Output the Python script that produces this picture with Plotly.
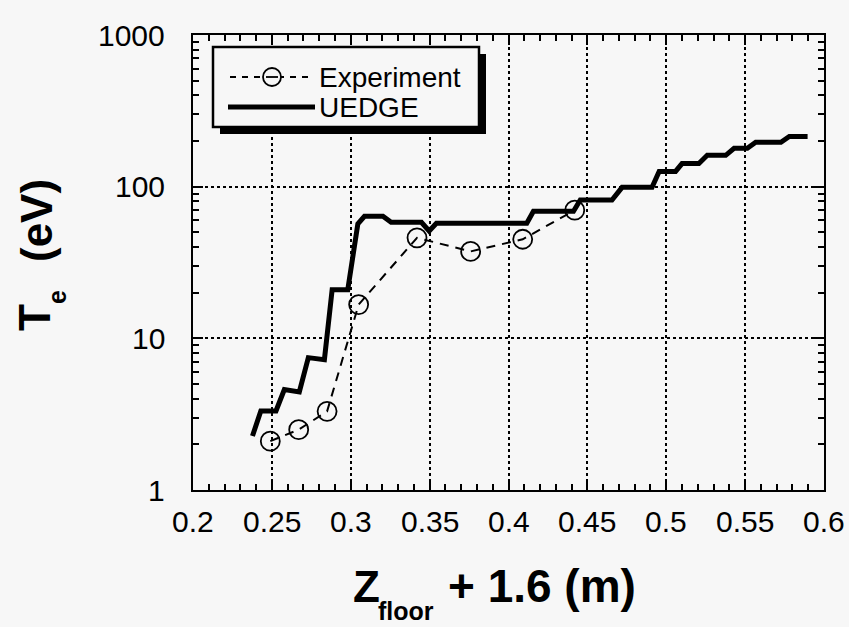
import math
import plotly.graph_objects as go

# Measured electron temperature (probe) along the floor
exp_z = [0.249, 0.267, 0.285, 0.305, 0.342, 0.376, 0.409, 0.442]
exp_te = [2.1, 2.5, 3.3, 16.7, 46.0, 37.4, 45.0, 70.0]

# UEDGE simulation profile
uedge_z = [0.2377, 0.2430, 0.2526, 0.2579, 0.2674, 0.2731, 0.2833, 0.2882,
           0.2981, 0.3045, 0.3087, 0.3204, 0.3256, 0.3448, 0.3497, 0.3543,
           0.4116, 0.4158, 0.4412, 0.4455, 0.4656, 0.4720, 0.4910, 0.4955,
           0.5059, 0.5100, 0.5207, 0.5260, 0.5377, 0.5430, 0.5514, 0.5567,
           0.5727, 0.5780, 0.5896]
uedge_te = [2.27, 3.32, 3.32, 4.6, 4.43, 7.46, 7.24, 20.9,
            20.9, 56.8, 63.8, 63.8, 58.2, 58.2, 51.0, 57.4,
            57.4, 68.8, 68.8, 81.7, 81.7, 99.0, 99.0, 126.0,
            126.0, 142.0, 142.0, 161.0, 161.0, 179.0, 179.0, 196.0,
            196.0, 214.0, 214.0]

x_ticks = [0.2, 0.25, 0.3, 0.35, 0.4, 0.45, 0.5, 0.55, 0.6]
x_tick_text = ["0.2", "0.25", "0.3", "0.35", "0.4", "0.45", "0.5", "0.55", "0.6"]
y_ticks = [1, 10, 100, 1000]
y_tick_text = ["1", "10", "100", "1000"]

legend_names = ["Experiment", "UEDGE"]

# Minor tick positions: 0.01 steps in x, 2..9 within each decade in y
x_minor = [round(0.2 + 0.01 * i, 2) for i in range(41) if i % 5]
y_minor = [m * 10 ** d for d in range(3) for m in range(2, 10)]

# Page geometry (pixels)
FIG_W, FIG_H = 849, 627
M_L, M_R, M_T, M_B = 193, 25, 35, 137
PLOT_W = FIG_W - M_L - M_R
PLOT_H = FIG_H - M_T - M_B


def px(x):
    return (x - M_L) / PLOT_W


def py(y):
    return (FIG_H - M_B - y) / PLOT_H


BG = "#f7f7f7"
FONT = "Liberation Sans, Arial, Helvetica, sans-serif"
TICK_FONT = dict(family=FONT, size=30, color="black")

fig = go.Figure()

fig.add_trace(go.Scatter(
    x=uedge_z, y=uedge_te, mode="lines", name=legend_names[1],
    line=dict(color="black", width=5), showlegend=False,
))
fig.add_trace(go.Scatter(
    x=exp_z, y=exp_te, mode="lines+markers", name=legend_names[0],
    line=dict(color="black", width=2, dash="9px,7px"),
    marker=dict(symbol="circle-open", size=19, color="black",
                line=dict(width=1.8, color="black")),
    showlegend=False,
))

axis_common = dict(
    showline=True, linecolor="black", linewidth=2, mirror="allticks",
    ticks="inside", ticklen=10, tickwidth=2, tickcolor="black",
    showgrid=True, gridcolor="black", gridwidth=1.8, griddash="dot",
    zeroline=False, showticklabels=False,
)

fig.update_xaxes(
    range=[0.2, 0.6], tickmode="array", tickvals=x_ticks,
    minor=dict(ticks="inside", ticklen=6, tickwidth=1.6, tickcolor="black",
               tickmode="array", tickvals=x_minor, showgrid=False),
    **axis_common,
)
fig.update_yaxes(
    type="log", range=[0, 3], tickmode="array", tickvals=y_ticks,
    minor=dict(ticks="inside", ticklen=6, tickwidth=1.6, tickcolor="black",
               tickmode="array", tickvals=y_minor, showgrid=False),
    **axis_common,
)

shapes = []
annotations = []

# Tick labels, placed on the axis scales
for v, t in zip(x_ticks, x_tick_text):
    annotations.append(dict(text=t, xref="x", yref="paper", x=v, y=0,
                            xanchor="center", yanchor="top", yshift=-13,
                            showarrow=False, font=TICK_FONT))
for v, t in zip(y_ticks, y_tick_text):
    annotations.append(dict(text=t, xref="paper", yref="y", x=0, y=math.log10(v),
                            xanchor="right", yanchor="middle", xshift=-26,
                            showarrow=False, font=TICK_FONT))

# Legend box with drop shadow
lx0, ly0, lx1, ly1 = 213, 47, 479, 127
shapes.append(dict(type="rect", xref="paper", yref="paper",
                   x0=px(lx0 + 7), x1=px(lx1 + 7), y0=py(ly1 + 7), y1=py(ly0 + 7),
                   fillcolor="black", line=dict(width=0)))
shapes.append(dict(type="rect", xref="paper", yref="paper",
                   x0=px(lx0), x1=px(lx1), y0=py(ly1), y1=py(ly0),
                   fillcolor=BG, line=dict(color="black", width=2.5)))

# Legend samples
row1, row2 = 77, 107
shapes.append(dict(type="line", xref="paper", yref="paper",
                   x0=px(230), x1=px(314), y0=py(row1), y1=py(row1),
                   line=dict(color="black", width=2, dash="6px,6px")))
shapes.append(dict(type="circle", xref="paper", yref="paper",
                   x0=px(263), x1=px(281), y0=py(row1 + 9), y1=py(row1 - 9),
                   fillcolor=BG, line=dict(color="black", width=1.8)))
shapes.append(dict(type="line", xref="paper", yref="paper",
                   x0=px(266), x1=px(278), y0=py(row1), y1=py(row1),
                   line=dict(color="black", width=1.8)))
shapes.append(dict(type="line", xref="paper", yref="paper",
                   x0=px(228), x1=px(315), y0=py(row2), y1=py(row2),
                   line=dict(color="black", width=5)))

for name, yy in zip(legend_names, [row1, row2]):
    annotations.append(dict(
        text=name, xref="paper", yref="paper", x=px(317), y=py(yy),
        xanchor="left", yanchor="middle", showarrow=False,
        font=dict(family=FONT, size=28, color="black"),
    ))

# Axis titles
TITLE_FONT = dict(family=FONT, size=44, color="black", weight="bold")
TITLE_FONT_WIDE = dict(family=FONT, size=46, color="black", weight="bold")
SUB_FONT = dict(family=FONT, size=25, color="black", weight="bold")

annotations.append(dict(text="Z", xref="paper", yref="paper",
                        x=px(366), y=py(586), xanchor="center", yanchor="middle",
                        showarrow=False, font=TITLE_FONT))
annotations.append(dict(text="floor", xref="paper", yref="paper",
                        x=px(406), y=py(611), xanchor="center", yanchor="middle",
                        showarrow=False, font=SUB_FONT))
annotations.append(dict(text="+ 1.6 (m)", xref="paper", yref="paper",
                        x=px(542), y=py(586), xanchor="center", yanchor="middle",
                        showarrow=False, font=TITLE_FONT_WIDE))

annotations.append(dict(text="T", xref="paper", yref="paper",
                        x=px(34), y=py(318), xanchor="center", yanchor="middle",
                        textangle=-90, showarrow=False, font=TITLE_FONT))
annotations.append(dict(text="e", xref="paper", yref="paper",
                        x=px(57), y=py(297), xanchor="center", yanchor="middle",
                        textangle=-90, showarrow=False, font=SUB_FONT))
annotations.append(dict(text="(eV)", xref="paper", yref="paper",
                        x=px(36), y=py(221), xanchor="center", yanchor="middle",
                        textangle=-90, showarrow=False, font=TITLE_FONT))

fig.update_layout(
    width=FIG_W, height=FIG_H,
    margin=dict(l=M_L, r=M_R, t=M_T, b=M_B, pad=0),
    paper_bgcolor=BG, plot_bgcolor=BG,
    showlegend=False,
    shapes=shapes, annotations=annotations,
)

fig.write_html("out.html")
